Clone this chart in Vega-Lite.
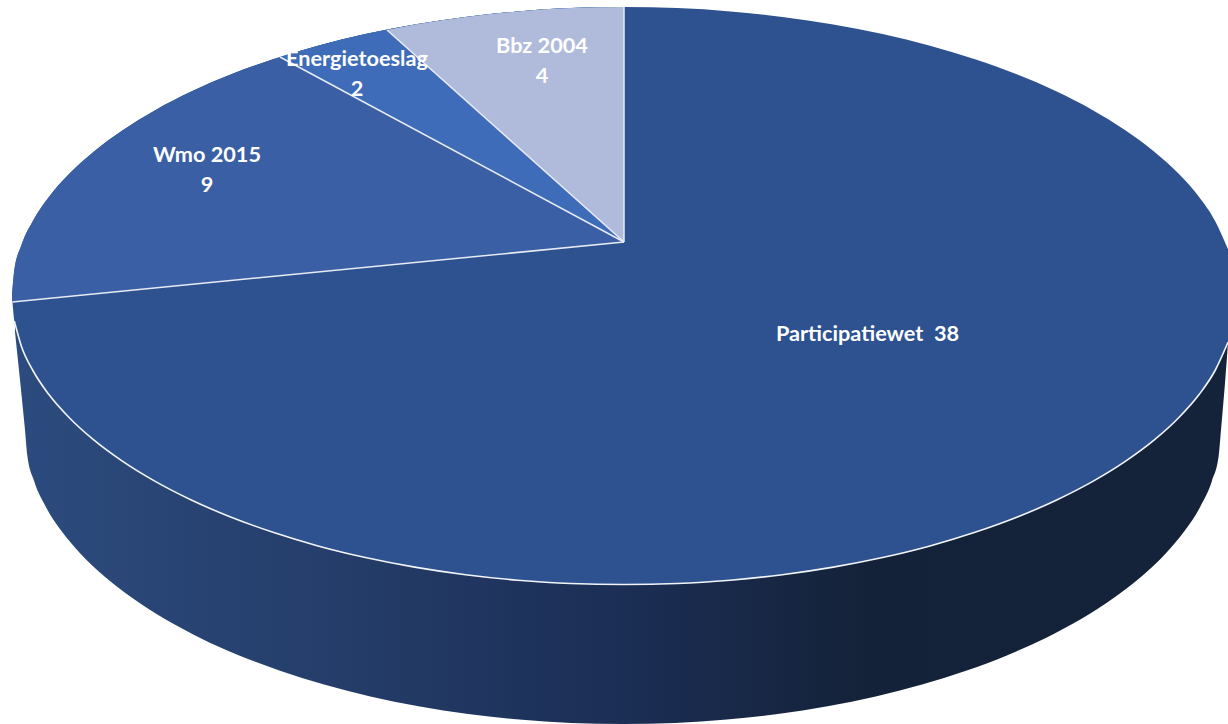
{"$schema":"https://vega.github.io/schema/vega-lite/v6.json","width":1228,"height":724,"padding":0,"autosize":{"type":"none"},"background":"white","view":{"stroke":null},
"datasets":{
"onderrand":[{"x":15,"y":332},{"x":20,"y":380},{"x":25,"y":430},{"x":27.3,"y":455.6},{"x":34.1,"y":481.1},{"x":45.4,"y":506.1},{"x":61.1,"y":530.6},{"x":81,"y":554.2},{"x":105.1,"y":577},{"x":133.1,"y":598.6},{"x":164.9,"y":619},{"x":200.2,"y":637.9},{"x":238.6,"y":655.2},{"x":280,"y":670.8},{"x":324,"y":684.6},{"x":370.3,"y":696.5},{"x":418.5,"y":706.3},{"x":468.2,"y":714},{"x":519.2,"y":719.5},{"x":570.9,"y":722.9},{"x":623,"y":724},{"x":675.1,"y":722.9},{"x":726.8,"y":719.5},{"x":777.8,"y":714},{"x":827.5,"y":706.3},{"x":875.7,"y":696.5},{"x":922,"y":684.6},{"x":966,"y":670.8},{"x":1007.4,"y":655.2},{"x":1045.8,"y":637.9},{"x":1081.1,"y":619},{"x":1112.9,"y":598.6},{"x":1140.9,"y":577},{"x":1165,"y":554.2},{"x":1184.9,"y":530.6},{"x":1200.6,"y":506.1},{"x":1211.9,"y":481.1},{"x":1218.7,"y":455.6},{"x":1221,"y":430},{"x":1225,"y":383},{"x":1228,"y":343}],
"rand":[{"x":12,"y":295.75},{"x":14.3,"y":321},{"x":21.3,"y":345.9},{"x":32.9,"y":370.5},{"x":48.9,"y":394.6},{"x":69.3,"y":417.8},{"x":94,"y":440.2},{"x":122.7,"y":461.4},{"x":155.2,"y":481.4},{"x":191.3,"y":500},{"x":230.6,"y":517},{"x":273,"y":532.3},{"x":318,"y":545.9},{"x":365.4,"y":557.5},{"x":414.7,"y":567.1},{"x":465.6,"y":574.7},{"x":517.8,"y":580.2},{"x":570.6,"y":583.5},{"x":624,"y":584.5},{"x":677.4,"y":583.5},{"x":730.2,"y":580.2},{"x":782.4,"y":574.7},{"x":833.3,"y":567.1},{"x":882.6,"y":557.5},{"x":930,"y":545.9},{"x":975,"y":532.3},{"x":1017.4,"y":517},{"x":1056.7,"y":500},{"x":1092.8,"y":481.4},{"x":1125.3,"y":461.4},{"x":1154,"y":440.2},{"x":1178.7,"y":417.8},{"x":1199.1,"y":394.6},{"x":1215.1,"y":370.5},{"x":1228,"y":342.3}],
"boog":[{"x":12,"y":295.75},{"x":14.3,"y":270.5},{"x":21.3,"y":245.6},{"x":32.9,"y":221},{"x":48.9,"y":197},{"x":69.3,"y":173.8},{"x":94,"y":151.4},{"x":122.7,"y":130.2},{"x":155.2,"y":110.2},{"x":191.3,"y":91.6},{"x":230.6,"y":74.6},{"x":273,"y":59.3},{"x":318,"y":45.7},{"x":365.4,"y":34},{"x":414.7,"y":24.5},{"x":465.6,"y":16.9},{"x":517.8,"y":11.4},{"x":570.6,"y":8.1},{"x":624,"y":7},{"x":677.4,"y":8.1},{"x":730.2,"y":11.4},{"x":782.4,"y":16.9},{"x":833.3,"y":24.5},{"x":882.6,"y":34},{"x":930,"y":45.7},{"x":975,"y":59.3},{"x":1017.4,"y":74.6},{"x":1056.7,"y":91.6},{"x":1092.8,"y":110.2},{"x":1125.3,"y":130.2},{"x":1154,"y":151.4},{"x":1178.7,"y":173.8},{"x":1199.1,"y":197},{"x":1215.1,"y":221},{"x":1228,"y":249.3}],
"partjes":[
{"wet":"Wmo 2015","x":12,"y":295.75,"y2":302},{"wet":"Wmo 2015","x":14.3,"y":270.5,"y2":301.8},{"wet":"Wmo 2015","x":21.3,"y":245.6,"y2":301.1},{"wet":"Wmo 2015","x":32.9,"y":221,"y2":299.9},{"wet":"Wmo 2015","x":48.9,"y":197,"y2":298.4},{"wet":"Wmo 2015","x":69.3,"y":173.8,"y2":296.4},{"wet":"Wmo 2015","x":94,"y":151.4,"y2":293.9},{"wet":"Wmo 2015","x":122.7,"y":130.2,"y2":291.1},{"wet":"Wmo 2015","x":155.2,"y":110.2,"y2":287.9},{"wet":"Wmo 2015","x":191.3,"y":91.6,"y2":284.4},{"wet":"Wmo 2015","x":230.6,"y":74.6,"y2":280.6},{"wet":"Wmo 2015","x":273,"y":59.3,"y2":276.4},{"wet":"Wmo 2015","x":318,"y":45.7,"y2":272},{"wet":"Wmo 2015","x":365.4,"y":34,"y2":267.3},{"wet":"Wmo 2015","x":414.7,"y":24.5,"y2":262.5},{"wet":"Wmo 2015","x":465.6,"y":16.9,"y2":257.5},{"wet":"Wmo 2015","x":517.8,"y":11.4,"y2":252.4},{"wet":"Wmo 2015","x":570.6,"y":8.1,"y2":247.2},{"wet":"Wmo 2015","x":624,"y":7,"y2":242},
{"wet":"Energietoeslag","x":280,"y":57,"y2":57},{"wet":"Energietoeslag","x":318,"y":45.7,"y2":77.4},{"wet":"Energietoeslag","x":365.4,"y":34,"y2":102.9},{"wet":"Energietoeslag","x":414.7,"y":24.5,"y2":129.5},{"wet":"Energietoeslag","x":465.6,"y":16.9,"y2":156.9},{"wet":"Energietoeslag","x":517.8,"y":11.4,"y2":184.9},{"wet":"Energietoeslag","x":570.6,"y":8.1,"y2":213.3},{"wet":"Energietoeslag","x":624,"y":7,"y2":242},
{"wet":"Bbz 2004","x":387,"y":30,"y2":30},{"wet":"Bbz 2004","x":414.7,"y":24.5,"y2":54.8},{"wet":"Bbz 2004","x":465.6,"y":16.9,"y2":100.3},{"wet":"Bbz 2004","x":517.8,"y":11.4,"y2":147},{"wet":"Bbz 2004","x":570.6,"y":8.1,"y2":194.2},{"wet":"Bbz 2004","x":624,"y":7,"y2":242}],
"snijlijnen":[{"lijn":"a","x":12.3,"y":302},{"lijn":"a","x":624,"y":242},{"lijn":"b","x":280,"y":57},{"lijn":"b","x":624,"y":242},{"lijn":"c","x":387,"y":30},{"lijn":"c","x":624,"y":242},{"lijn":"d","x":624,"y":7},{"lijn":"d","x":624,"y":242}],
"labels":[{"wet":"Participatiewet","aantal":38,"label":"Participatiewet\u00a0\u00a038","x":867.5,"y":334},{"wet":"Wmo 2015","aantal":9,"label":"Wmo 2015\n9","x":207,"y":155},{"wet":"Energietoeslag","aantal":2,"label":"Energietoeslag\n2","x":357,"y":59},{"wet":"Bbz 2004","aantal":4,"label":"Bbz 2004\n4","x":542,"y":46}]
},
"encoding":{"x":{"field":"x","type":"quantitative","scale":{"domain":[0,1228],"nice":false,"zero":false},"axis":null},"y":{"field":"y","type":"quantitative","scale":{"domain":[724,0],"nice":false,"zero":false},"axis":null}},
"layer":[
{"data":{"name":"onderrand"},"mark":{"type":"area","interpolate":"monotone","color":{"gradient":"linear","x1":0,"x2":1,"y1":0,"y2":0,"stops":[{"offset":0,"color":"#2c4b7e"},{"offset":0.25,"color":"#253e6b"},{"offset":0.5,"color":"#1b2e55"},{"offset":0.7,"color":"#142239"},{"offset":1,"color":"#14233a"}]}},"encoding":{"y2":{"datum":300}}},
{"data":{"name":"rand"},"mark":{"type":"area","interpolate":"monotone","color":"#2e5290"},"encoding":{"y2":{"datum":300}}},
{"data":{"name":"boog"},"mark":{"type":"area","interpolate":"monotone","color":"#2e5290"},"encoding":{"y2":{"datum":300}}},
{"data":{"name":"partjes"},"mark":{"type":"area","interpolate":"monotone"},"encoding":{"y2":{"field":"y2"},"color":{"field":"wet","type":"nominal","legend":null,"scale":{"domain":["Wmo 2015","Energietoeslag","Bbz 2004"],"range":["#3a5fa5","#3e6cb9","#b0bbdc"]}}}},
{"data":{"name":"snijlijnen"},"mark":{"type":"line","color":"#e8ebf3","strokeWidth":1.5},"encoding":{"detail":{"field":"lijn"}}},
{"data":{"name":"rand"},"transform":[{"filter":"datum.x>=14"}],"mark":{"type":"line","interpolate":"monotone","color":"#f2f4f8","strokeWidth":1.6}},
{"data":{"name":"labels"},"mark":{"type":"text","color":"white","font":"Lato","fontWeight":"bold","fontSize":21.7,"lineBreak":"\n","lineHeight":29.5,"align":"center","baseline":"middle"},"encoding":{"text":{"field":"label"}}}
]}
